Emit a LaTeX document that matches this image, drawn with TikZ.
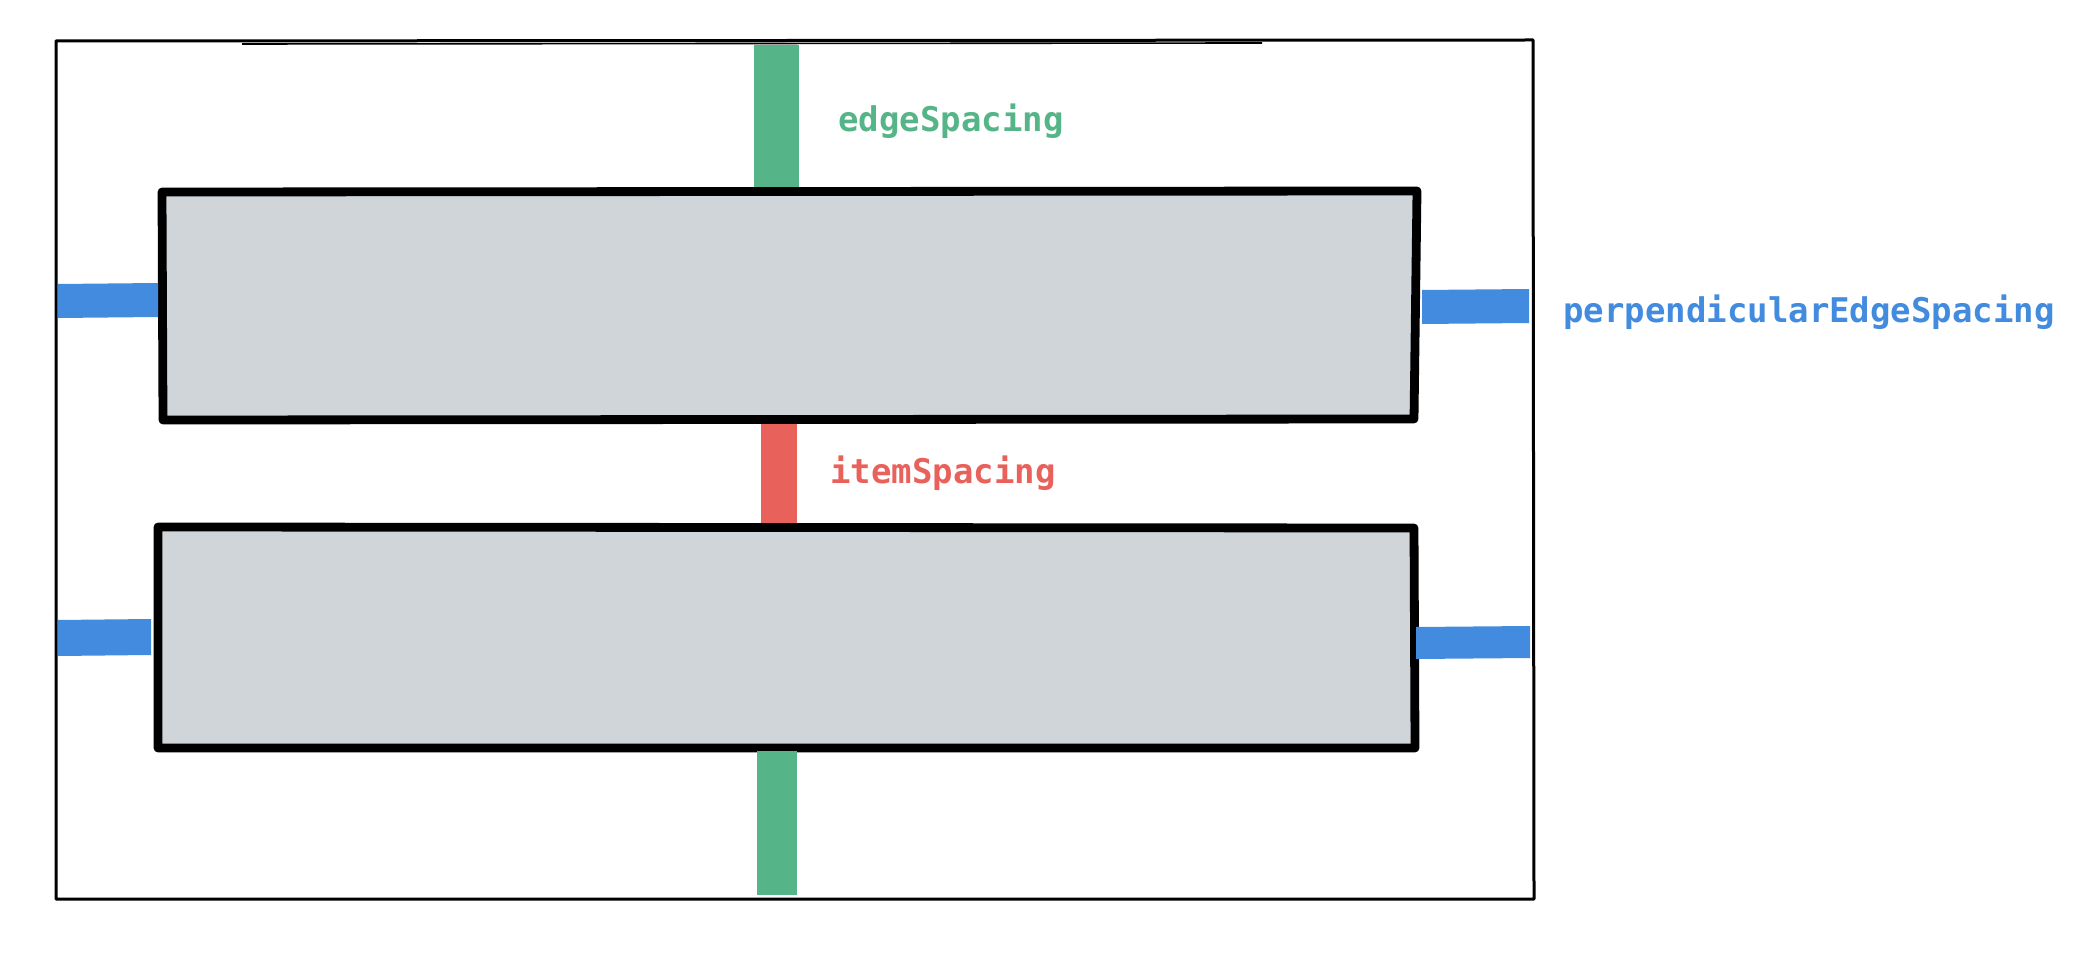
\documentclass[tikz,border=0pt]{standalone}
\usepackage{fontspec}
\usepackage{tikz}
\usetikzlibrary{positioning}
\newfontfamily\monofont{DejaVu Sans Mono}
\definecolor{EdgeGreen}{RGB}{86,181,136}
\definecolor{PerpBlue}{RGB}{66,139,223}
\definecolor{ItemRed}{RGB}{233,97,91}
\definecolor{ItemGray}{RGB}{207,213,217}
\tikzset{
  frame/.style={draw=black, line width=1.5pt, line join=round},
  itembox/.style={draw=black, fill=ItemGray, line width=4.4pt, line join=round},
  spacelabel/.style={font=\monofont\bfseries\fontsize{17}{20}\selectfont, anchor=base west, inner sep=0pt},
}
\begin{document}
\begin{tikzpicture}[x=0.5pt, y=-0.5pt]
    \useasboundingbox (0,0) rectangle (2098,962);
    % Rahmen
    \draw[frame] (56,41) -- (1533,40) -- (1534,899) -- (56,899) -- cycle;
    \draw[frame, line width=0.8pt] (242,44) -- (1262,43);
    
    % Elemente
    \draw[itembox] (162,192) -- (1417,191) -- (1414,419) -- (163,420) -- cycle;
    \draw[itembox] (158,527) -- (1414,528) -- (1415,748) -- (158,748) -- cycle;
    
    % Abstaende
    \fill[EdgeGreen] (754,45) rectangle (799,187);
    \fill[EdgeGreen] (757,751) rectangle (797,895);
    \fill[ItemRed] (761,424) rectangle (797,523);
    \fill[PerpBlue] (58,284) -- (158,283) -- (158,317) -- (58,318) -- cycle;
    \fill[PerpBlue] (1422,290) -- (1529,289) -- (1529,323) -- (1422,324) -- cycle;
    \fill[PerpBlue] (58,620) -- (151,619) -- (151,655) -- (58,656) -- cycle;
    \fill[PerpBlue] (1416,627) -- (1530,626) -- (1530,658) -- (1416,659) -- cycle;
    
    % Beschriftungen
    \node[spacelabel, text=EdgeGreen] (edge) at (838,132) {edgeSpacing};
    \node[spacelabel, text=PerpBlue] (perp) at (1563,323) {perpendicularEdgeSpacing};
    \node[spacelabel, text=ItemRed] (item) at (830,483) {itemSpacing};
\end{tikzpicture}
\end{document}
